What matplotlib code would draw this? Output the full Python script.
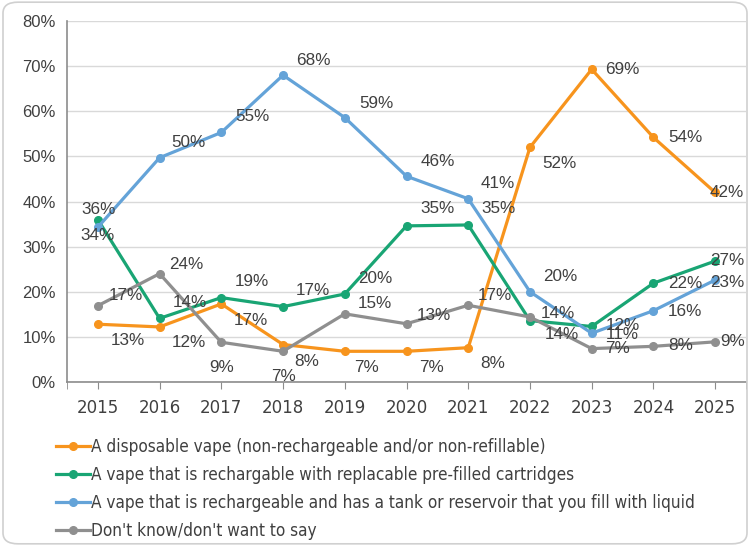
import matplotlib
matplotlib.use('Agg')
import matplotlib.pyplot as plt
from matplotlib.patches import FancyBboxPatch
from matplotlib.ticker import FuncFormatter, FixedLocator

# データ
years = ['2015', '2016', '2017', '2018', '2019', '2020', '2021', '2022', '2023', '2024', '2025']
disposable = [12.8, 12.2, 17.3, 8.3, 6.8, 6.8, 7.6, 52.0, 69.3, 54.2, 42.0]
cartridge = [36.0, 14.1, 18.7, 16.7, 19.5, 34.6, 34.8, 13.6, 12.3, 21.9, 26.8]
tank = [34.3, 49.7, 55.3, 68.0, 58.6, 45.6, 40.6, 20.0, 10.8, 15.8, 22.6]
dont_know = [16.9, 24.0, 8.8, 6.8, 15.1, 12.9, 17.0, 14.4, 7.4, 7.9, 8.9]
labels_disp = ['13%', '12%', '17%', '8%', '7%', '7%', '8%', '52%', '69%', '54%', '42%']
labels_cart = ['36%', '14%', '19%', '17%', '20%', '35%', '35%', '14%', '12%', '22%', '27%']
labels_tank = ['34%', '50%', '55%', '68%', '59%', '46%', '41%', '20%', '11%', '16%', '23%']
labels_dk = ['17%', '24%', '9%', '7%', '15%', '13%', '17%', '14%', '7%', '8%', '9%']
names = ['A disposable vape (non-rechargeable and/or non-refillable)',
         'A vape that is rechargable with replacable pre-filled cartridges',
         'A vape that is rechargeable and has a tank or reservoir that you fill with liquid',
         "Don't know/don't want to say"]

colors = ['#F7941D', '#19A574', '#64A3D8', '#8F8F8F']

# ラベルの位置 (ピクセル単位のオフセット)
off_disp = [(30, -16), (29, -16), (30, -17), (24, -17), (22, -16), (25, -16), (24, -16), (29, -16), (31, 0), (32, 0), (12, 0)]
off_cart = [(1, 10), (30, 16), (31, 16), (30, 16), (30, 15), (31, 17), (30, 16), (28, 7), (31, 1), (32, 0), (12, 1)]
off_tank = [(0, -8), (29, 15), (31, 16), (30, 15), (32, 14), (31, 15), (30, 15), (30, 15), (31, -1), (32, -1), (12, -2)]
off_dk = [(28, 10), (27, 9), (0, -25), (0, -25), (30, 10), (27, 8), (27, 10), (32, -17), (26, 0), (27, 1), (17, 0)]

text_color = '#404040'
plt.rcParams['font.family'] = ['Liberation Sans', 'DejaVu Sans']

fig = plt.figure(figsize=(7.5, 5.46), dpi=100)
ax = fig.add_axes([0.0893, 0.3004, 0.9054, 0.6611])

x = list(range(len(years)))
series = [(disposable, labels_disp, off_disp),
          (cartridge, labels_cart, off_cart),
          (tank, labels_tank, off_tank),
          (dont_know, labels_dk, off_dk)]

for (vals, labs, offs), c, name in zip(series, colors, names):
    ax.plot(x, vals, color=c, lw=2.3, marker='o', markersize=5.5, label=name, zorder=3)

for (vals, labs, offs), c in zip(series, colors):
    for xi, v, lab, (dx, dy) in zip(x, vals, labs, offs):
        ax.annotate(lab, (xi, v), xytext=(dx, dy), textcoords='offset pixels',
                    ha='center', va='center', fontsize=12.3, color=text_color, zorder=5)

ax.set_xlim(-0.5, len(years) - 0.5)
ax.set_ylim(0, 80)
ax.set_yticks(range(0, 81, 10))
ax.yaxis.set_major_formatter(FuncFormatter(lambda v, p: f'{int(v)}%'))
ax.set_xticks(x)
ax.set_xticklabels(years, family='DejaVu Sans')
ax.xaxis.set_minor_locator(FixedLocator([-0.5, len(years) - 0.5]))
ax.tick_params(axis='x', which='both', length=5, color='#8C8C8C', labelsize=12,
               labelcolor=text_color, pad=7)
ax.tick_params(axis='y', length=0, labelsize=12, labelcolor=text_color, pad=8)
ax.grid(axis='y', color='#D9D9D9', lw=1)
ax.set_axisbelow(True)
for s in ['top', 'right']:
    ax.spines[s].set_visible(False)
for s in ['left', 'bottom']:
    ax.spines[s].set_color('#8C8C8C')
    ax.spines[s].set_linewidth(1.2)

leg = fig.legend(loc='upper left', bbox_to_anchor=(0.074, 0.198), frameon=False,
                 borderpad=0, borderaxespad=0,
                 handlelength=2.0, handletextpad=0.1, labelspacing=0.58,
                 prop={'family': 'DejaVu Sans', 'stretch': 'condensed', 'size': 12.3})
for t in leg.get_texts():
    t.set_color(text_color)

# 外枠
fig.patches.append(FancyBboxPatch((0.004, 0.004), 0.992, 0.992, boxstyle='round,pad=0,rounding_size=0.02',
                                  transform=fig.transFigure, fill=False, ec='#D0D0D0', lw=1.2))

plt.savefig('out.png', dpi=100)
